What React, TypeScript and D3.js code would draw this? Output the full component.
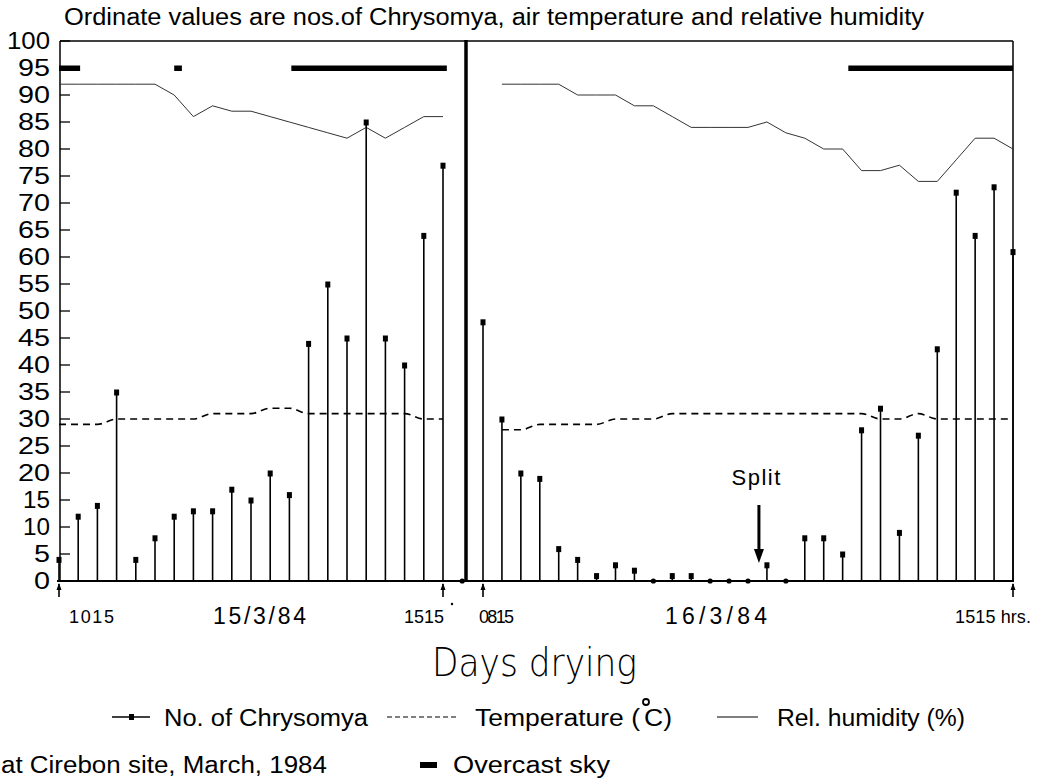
import React from "react";
import * as d3 from "d3";

// 15-minute sampling slots; day 1 runs 1015 -> 1530, day 2 runs 0815 -> 1515
const day1Counts = [4, 12, 14, 35, 4, 8, 12, 13, 13, 17, 15, 20, 16, 44, 55, 45, 85, 45, 40, 64, 77, 0];
const day1Temp = [29, 29, 29, 30, 30, 30, 30, 30, 31, 31, 31, 32, 32, 31, 31, 31, 31, 31, 31, 30, 30];
const day1Hum = [92, 92, 92, 92, 92, 92, 90, 86, 88, 87, 87, 86, 85, 84, 83, 82, 84, 82, 84, 86, 86];

const day2Counts = [48, 30, 20, 19, 6, 4, 1, 3, 2, 0, 1, 1, 0, 0, 0, 3, 0, 8, 8, 5, 28, 32, 9, 27, 43, 72, 64, 73, 61];
const day2Temp = [null, 28, 28, 29, 29, 29, 29, 30, 30, 30, 31, 31, 31, 31, 31, 31, 31, 31, 31, 31, 31, 30, 30, 31, 30, 30, 30, 30, 30];
const day2Hum = [null, 92, 92, 92, 92, 90, 90, 90, 88, 88, 86, 84, 84, 84, 84, 85, 83, 82, 80, 80, 76, 76, 77, 74, 74, 78, 82, 82, 80];

// overcast periods, in slot units
const day1Overcast = [[0, 1.1], [6.0, 6.4], [12.1, 20.2]];
const day2Overcast = [[19.3, 28]];

const yTicks = d3.range(0, 101, 5);
const day1Labels = ["1015", "15/3/84", "1515"];
const day2Labels = ["0815", "16/3/84", "1515 hrs."];
const splitSlot = 15;

const FONT = "'Liberation Sans', Arial, sans-serif";

const y = d3.scaleLinear().domain([0, 100]).range([581, 41]);
const x1 = d3.scaleLinear().domain([0, 20]).range([59, 443]);
const x2 = d3.scaleLinear().domain([0, 28]).range([483, 1013]);

// plotter digits: the "1" is narrow, the rest are wide
const digitWidth = (s: string) => s.split("").reduce((w, c) => w + (c === "1" ? 11 : 16), 0);

function Panel({ x, counts, temp, hum, overcast }) {
  const humLine = d3
    .line<any>()
    .defined((d) => d != null)
    .x((_, i) => x(i))
    .y((d) => y(d));
  const tempLine = d3
    .line<any>()
    .defined((d) => d != null)
    .x((_, i) => x(i))
    .y((d) => y(d))
    .curve(d3.curveMonotoneX);
  return (
    <g>
      {overcast.map(([a, b], i) => (
        <rect key={"o" + i} x={x(a)} y={y(95) - 2.5} width={x(b) - x(a)} height={5.5} fill="#000" />
      ))}
      <path d={humLine(hum) || ""} fill="none" stroke="#333" strokeWidth={1} />
      <path d={tempLine(temp) || ""} fill="none" stroke="#000" strokeWidth={1.6} strokeDasharray="7,5" />
      {counts.map((v, i) =>
        v > 0 ? (
          <g key={i}>
            <line x1={x(i)} x2={x(i)} y1={y(0)} y2={y(v)} stroke="#000" strokeWidth={1.6} />
            <rect x={x(i) - 2.5} y={y(v) - 2.5} width={5} height={6} fill="#000" />
          </g>
        ) : (
          <circle key={i} cx={x(i)} cy={y(0)} r={2.6} fill="#000" />
        )
      )}
    </g>
  );
}

function UpArrow({ cx }) {
  return (
    <g>
      <line x1={cx} x2={cx} y1={584} y2={597} stroke="#000" strokeWidth={1.6} />
      <path d={`M${cx - 2.5},${590} L${cx},${583} L${cx + 2.5},${590} Z`} fill="#000" />
    </g>
  );
}

export default function App() {
  const textStyle = { fontFamily: FONT, fill: "#000" };
  return (
    <svg width={1045} height={784} style={{ position: "absolute", left: 0, top: 0, background: "#fff" }}>
      <rect width={1045} height={784} fill="#fff" />
      <text x={64} y={25} fontSize={23} textLength={860} lengthAdjust="spacingAndGlyphs" style={textStyle}>
        Ordinate values are nos.of Chrysomya, air temperature and relative humidity
      </text>

      {yTicks.map((t) => (
        <g key={t}>
          <line x1={60} x2={70} y1={y(t)} y2={y(t)} stroke="#000" strokeWidth={1.3} />
          <text
            x={50}
            y={y(t)}
            dy="0.36em"
            textAnchor="end"
            fontSize={23}
            textLength={digitWidth(String(t))}
            lengthAdjust="spacingAndGlyphs"
            style={textStyle}
          >
            {t}
          </text>
        </g>
      ))}

      <line x1={60} x2={1013} y1={y(100)} y2={y(100)} stroke="#000" strokeWidth={1.5} />
      <line x1={60} x2={60} y1={y(100)} y2={y(0)} stroke="#000" strokeWidth={1.5} />
      <line x1={1013} x2={1013} y1={y(100)} y2={y(0)} stroke="#000" strokeWidth={1.5} />
      <line x1={466} x2={466} y1={y(100) - 1} y2={y(0)} stroke="#000" strokeWidth={3.5} />
      <line x1={57} x2={1014} y1={y(0)} y2={y(0)} stroke="#000" strokeWidth={2} />

      <Panel x={x1} counts={day1Counts} temp={day1Temp} hum={day1Hum} overcast={day1Overcast} />
      <Panel x={x2} counts={day2Counts} temp={day2Temp} hum={day2Hum} overcast={day2Overcast} />

      <UpArrow cx={x1(0)} />
      <UpArrow cx={x1(20)} />
      <UpArrow cx={x2(0)} />
      <UpArrow cx={x2(28)} />

      <text x={69} y={623} fontSize={18} textLength={45} style={textStyle}>{day1Labels[0]}</text>
      <text x={213} y={624} fontSize={23} textLength={93} lengthAdjust="spacing" style={textStyle}>{day1Labels[1]}</text>
      <text x={404} y={623} fontSize={18} textLength={40} style={textStyle}>{day1Labels[2]}</text>
      <circle cx={452} cy={604} r={1.2} fill="#000" />
      <text x={479} y={623} fontSize={18} textLength={35} style={textStyle}>{day2Labels[0]}</text>
      <text x={665} y={624} fontSize={23} textLength={102} lengthAdjust="spacing" style={textStyle}>{day2Labels[1]}</text>
      <text x={955} y={623} fontSize={18} textLength={76} style={textStyle}>{day2Labels[2]}</text>

      <text x={x2(splitSlot) - 11} y={485} fontSize={22} textAnchor="middle" textLength={49} style={textStyle}>Split</text>
      <line x1={x2(splitSlot) - 8} x2={x2(splitSlot) - 8} y1={505} y2={552} stroke="#000" strokeWidth={3} />
      <path
        d={`M${x2(splitSlot) - 13},${549} L${x2(splitSlot) - 8},${563} L${x2(splitSlot) - 3},${549} Z`}
        fill="#000"
      />

      <text
        x={432}
        y={676}
        fontSize={39}
        fontWeight={200}
        textLength={205}
        lengthAdjust="spacingAndGlyphs"
        style={{ ...textStyle, fontFamily: "'DejaVu Sans', 'Liberation Sans', sans-serif" }}
      >
        Days drying
      </text>

      {/* legend */}
      <line x1={112} x2={150} y1={717} y2={717} stroke="#000" strokeWidth={1.5} />
      <rect x={129} y={714} width={5} height={6} fill="#000" />
      <text x={164} y={726} fontSize={23} textLength={204} lengthAdjust="spacingAndGlyphs" style={textStyle}>No. of Chrysomya</text>
      <line x1={387} x2={457} y1={717} y2={717} stroke="#000" strokeWidth={1.2} strokeDasharray="5,3" />
      <text x={475} y={726} fontSize={23} textLength={165} lengthAdjust="spacingAndGlyphs" style={textStyle}>Temperature (</text>
      <circle cx={646} cy={702} r={3} fill="none" stroke="#000" strokeWidth={1.8} />
      <text x={644} y={726} fontSize={23} textLength={28} lengthAdjust="spacingAndGlyphs" style={textStyle}>C)</text>
      <line x1={717} x2={758} y1={717} y2={717} stroke="#000" strokeWidth={1.2} />
      <text x={777} y={726} fontSize={23} textLength={188} lengthAdjust="spacingAndGlyphs" style={textStyle}>Rel. humidity (%)</text>

      <text x={1} y={773} fontSize={23} textLength={326} lengthAdjust="spacingAndGlyphs" style={textStyle}>at Cirebon site, March, 1984</text>
      <rect x={420} y={762} width={17} height={6} fill="#000" />
      <text x={453} y={773} fontSize={23} textLength={157} lengthAdjust="spacingAndGlyphs" style={textStyle}>Overcast sky</text>
    </svg>
  );
}
